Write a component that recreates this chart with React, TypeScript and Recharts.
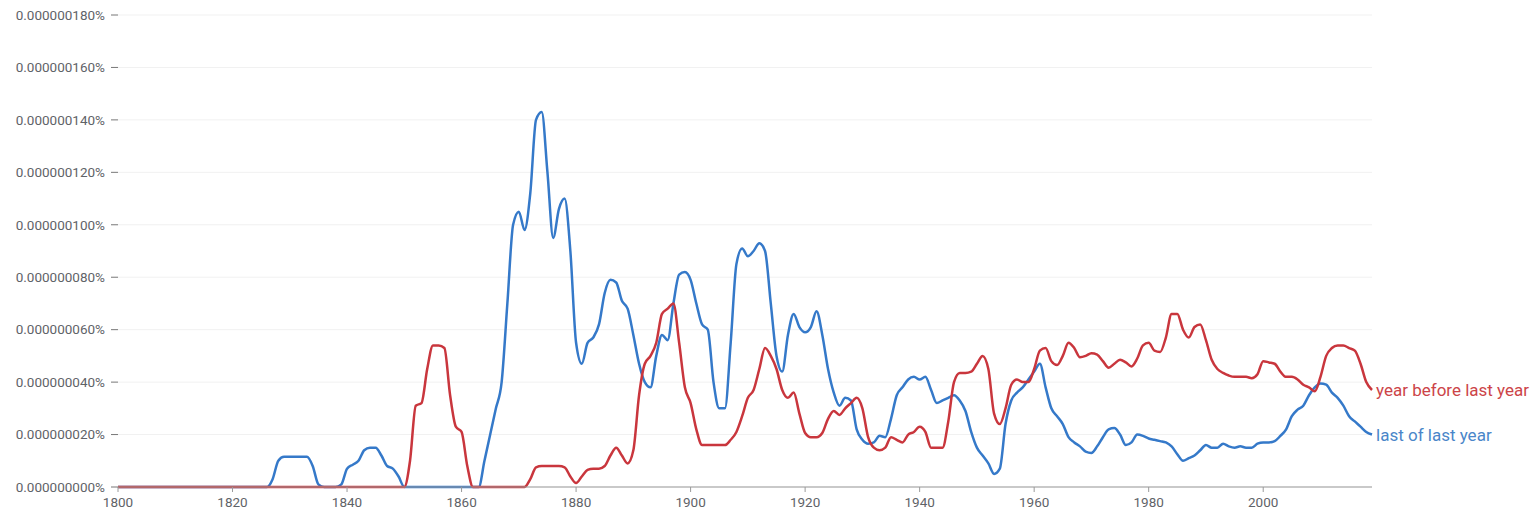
import { CartesianGrid, LabelList, Line, LineChart, XAxis, YAxis } from 'recharts'

const startYear = 1800

// values in units of 0.000000001%
const lastOfLastYear = [
  0, 0, 0, 0, 0, 0, 0, 0, 0, 0, 0, 0, 0, 0, 0, 0, 0, 0, 0, 0, 0, 0, 0, 0, 0, 0, 0,
  3, 10, 11.5, 11.5, 11.5, 11.5, 11.5, 8, 1, 0, 0, 0, 1, 7, 8.5, 10, 14, 15, 15, 12, 8, 7, 4, 0,
  0, 0, 0, 0, 0, 0, 0, 0, 0, 0, 0, 0, 0,
  10, 20, 30, 40, 70, 100, 105, 98, 112, 140, 143, 120, 95, 106, 110, 90, 55,
  47, 55, 57, 62, 74, 79, 78, 71, 68, 58, 47, 40, 38, 50, 58, 56, 70, 81, 82, 79,
  70, 62, 60, 40, 30, 30, 55, 85, 91, 88, 90, 93, 90, 70, 50, 44, 58, 66, 61, 59,
  61, 67, 58, 45, 36, 31, 34, 33, 22, 18, 16.5, 17, 19.5, 19, 26, 35, 38, 41, 42, 41,
  42, 37, 32, 33, 34, 35, 33, 29, 21, 15, 12, 9, 5, 7, 24, 33, 36, 38, 41, 44,
  47, 38, 30, 27, 24, 19, 17, 15.5, 13.5, 13, 15.5, 19, 22, 22.5, 20, 16, 17, 20, 19.5, 18.5,
  18, 17.5, 17, 15.5, 12.5, 10, 11, 12, 14, 16, 15, 15, 16.5, 15.5, 15, 15.5, 15, 15, 16.5, 17,
  17, 17.5, 19.5, 22, 27, 29.5, 31, 35, 38, 39.5, 39, 36, 34, 31, 27, 25, 23, 21, 20,
]

const yearBeforeLastYear = [
  0, 0, 0, 0, 0, 0, 0, 0, 0, 0, 0, 0, 0, 0, 0, 0, 0, 0, 0, 0, 0, 0, 0, 0, 0, 0,
  0, 0, 0, 0, 0, 0, 0, 0, 0, 0, 0, 0, 0, 0, 0, 0, 0, 0, 0, 0, 0, 0, 0, 0, 0,
  10, 31, 32, 45, 54, 54, 53, 35, 23, 21, 8, 0,
  0, 0, 0, 0, 0, 0, 0, 0, 0,
  3, 7.5, 8, 8, 8, 8, 7.5, 4, 1.5, 4, 6.5, 7, 7, 8, 12, 15, 12, 9,
  14, 35, 47, 50, 55, 66, 68, 70, 55, 38, 32, 22, 16, 16, 16, 16, 16, 18, 21, 27,
  34, 37, 45, 53, 50, 45, 37, 34, 36, 28, 20.6, 19, 19, 20.6, 26, 29, 27.5, 30, 32, 34,
  30, 19, 15, 14, 15, 19, 18, 17, 20, 21, 23, 21, 15, 15, 15, 25, 40, 43.5, 43.5, 44,
  47, 50, 45, 28, 24, 30, 39, 41, 40, 40, 45, 52, 53, 48, 46.5, 50, 55, 53, 49.5, 50,
  51, 50.5, 48, 45.5, 47, 48.5, 47.5, 46, 49, 54, 55, 52, 51.5, 57, 66, 66, 60, 57, 61, 62,
  56, 48.5, 45, 43.5, 42.5, 42, 42, 42, 41.5, 43, 48, 47.5, 47, 44, 42, 42, 41, 39, 38, 36.5,
  42, 50, 53, 54, 54, 53, 52, 47, 40, 37,
]

const xTicks = [1800, 1820, 1840, 1860, 1880, 1900, 1920, 1940, 1960, 1980, 2000]
const yTicks = [0, 20, 40, 60, 80, 100, 120, 140, 160, 180]

const blue = '#3579c9'
const red = '#c9363d'

const data = lastOfLastYear.map((v, i) => ({
  year: startYear + i,
  lastOfLast: v,
  beforeLast: yearBeforeLastYear[i],
}))

const lastIndex = data.length - 1

function endLabel(text: string, color: string) {
  return (props: any) => {
    if (props.index !== lastIndex) return <g />
    return (
      <text
        x={Number(props.x) + 4}
        y={Number(props.y)}
        fill={color}
        fontSize={17}
        dominantBaseline="central"
        fontFamily="Roboto, sans-serif"
      >
        {text}
      </text>
    )
  }
}

export default function App() {
  return (
    <div style={{ position: 'absolute', left: 0, top: 0, background: '#fff' }}>
      <LineChart
        width={1536}
        height={518}
        data={data}
        margin={{ top: 15, right: 164, left: 0, bottom: 0 }}
        style={{ fontFamily: 'Roboto, sans-serif' }}
      >
        <CartesianGrid vertical={false} stroke="#f1f1f1" />
        <XAxis
          dataKey="year"
          type="number"
          domain={[1800, 2019]}
          ticks={xTicks}
          height={31}
          stroke="#9a9a9a"
          tickSize={5}
          tickMargin={5}
          tick={{ fill: '#5f6368', fontSize: 13.5 }}
        />
        <YAxis
          domain={[0, 180]}
          ticks={yTicks}
          width={118}
          axisLine={false}
          tickSize={7}
          tickMargin={6}
          tickLine={{ stroke: '#777' }}
          tick={{ fill: '#5f6368', fontSize: 13.5 }}
          tickFormatter={(v: number) => (v / 1e9).toFixed(9) + '%'}
        />
        <Line
          type="monotone"
          dataKey="lastOfLast"
          stroke={blue}
          strokeWidth={2.5}
          dot={false}
          isAnimationActive={false}
        >
          <LabelList dataKey="lastOfLast" content={endLabel('last of last year', '#4a86c9')} />
        </Line>
        <Line
          type="monotone"
          dataKey="beforeLast"
          stroke={red}
          strokeWidth={2.5}
          dot={false}
          isAnimationActive={false}
        >
          <LabelList dataKey="beforeLast" content={endLabel('year before last year', '#cc4448')} />
        </Line>
      </LineChart>
    </div>
  )
}
